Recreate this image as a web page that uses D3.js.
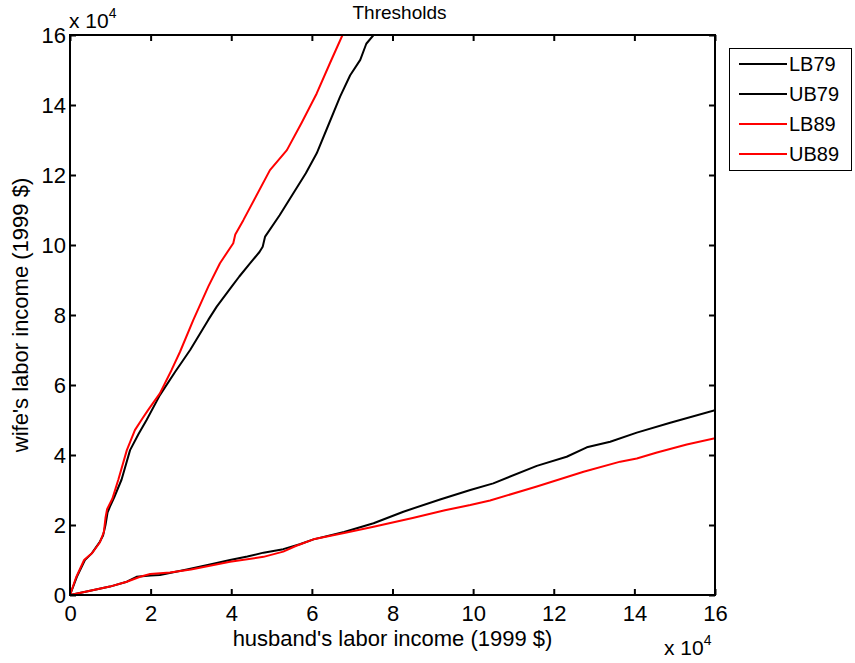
<!DOCTYPE html>
<html>
<head>
<meta charset="utf-8">
<script src="https://cdn.jsdelivr.net/npm/d3@7"></script>
<style>
  html, body { margin: 0; padding: 0; background: #fff; }
  svg text { font-family: Arial, "Liberation Sans", Helvetica, sans-serif; fill: #000; }
</style>
</head>
<body>
<svg id="chart" width="855" height="663"></svg>
<script>
// Values in units of 1e4 (1999 $)
const xTicks = [0, 2, 4, 6, 8, 10, 12, 14, 16];
const yTicks = [0, 2, 4, 6, 8, 10, 12, 14, 16];
const seriesNames = ["LB79", "UB79", "LB89", "UB89"];
const seriesColors = ["#000000", "#000000", "#ff0000", "#ff0000"];

const lb79X = [0, 0.5, 0.99, 1.41, 1.65, 2.0, 2.23, 2.9, 3.5, 3.97, 4.4, 4.8, 5.29, 5.7, 6.04, 6.8, 7.53, 8.27, 9.18, 9.93, 10.5, 11.58, 12.32, 12.82, 13.4, 14.06, 14.89, 16.0];
const lb79Y = [0, 0.12, 0.24, 0.38, 0.52, 0.56, 0.57, 0.73, 0.88, 1.0, 1.1, 1.21, 1.31, 1.45, 1.59, 1.8, 2.05, 2.38, 2.73, 3.0, 3.19, 3.69, 3.95, 4.22, 4.38, 4.64, 4.92, 5.28];

const ub79X = [0, 0.17, 0.37, 0.54, 0.74, 0.82, 0.88, 0.93, 1.0, 1.1, 1.28, 1.49, 1.7, 1.9, 2.23, 2.61, 2.98, 3.43, 3.64, 4.01, 4.2, 4.47, 4.7, 4.78, 4.84, 5.2, 5.54, 5.85, 6.12, 6.4, 6.7, 6.95, 7.2, 7.35, 7.53];
const ub79Y = [0, 0.52, 1.0, 1.19, 1.52, 1.7, 2.0, 2.35, 2.55, 2.8, 3.3, 4.14, 4.6, 5.0, 5.71, 6.38, 7.0, 7.86, 8.24, 8.81, 9.1, 9.48, 9.8, 9.95, 10.24, 10.85, 11.48, 12.05, 12.62, 13.4, 14.24, 14.85, 15.29, 15.75, 16.0];

const lb89X = [0, 0.5, 0.99, 1.41, 1.74, 1.99, 2.48, 3.0, 3.97, 4.8, 5.29, 5.6, 6.04, 6.8, 7.53, 8.5, 9.3, 9.93, 10.42, 11.58, 12.74, 13.65, 14.06, 14.56, 15.3, 16.0];
const lb89Y = [0, 0.12, 0.24, 0.38, 0.52, 0.6, 0.64, 0.73, 0.95, 1.09, 1.24, 1.4, 1.59, 1.77, 1.95, 2.2, 2.42, 2.57, 2.7, 3.1, 3.52, 3.81, 3.9, 4.07, 4.3, 4.48];

const ub89X = [0, 0.15, 0.35, 0.55, 0.74, 0.84, 0.88, 0.92, 1.05, 1.2, 1.41, 1.61, 1.8, 1.94, 2.23, 2.52, 2.73, 3.06, 3.43, 3.72, 4.05, 4.1, 4.3, 4.96, 5.38, 5.75, 6.12, 6.45, 6.76];
const ub89Y = [0, 0.5, 1.0, 1.2, 1.5, 1.8, 2.2, 2.45, 2.75, 3.3, 4.14, 4.71, 5.05, 5.29, 5.76, 6.43, 6.95, 7.86, 8.81, 9.48, 10.05, 10.3, 10.71, 12.14, 12.71, 13.5, 14.33, 15.2, 16.0];

const seriesX = [lb79X, ub79X, lb89X, ub89X];
const seriesY = [lb79Y, ub79Y, lb89Y, ub89Y];

const svg = d3.select("#chart");
const pL = 70, pR = 715, pT = 35, pB = 595;

const x = d3.scaleLinear().domain([0, 16]).range([pL, pR]);
const y = d3.scaleLinear().domain([0, 16]).range([pB, pT]);

const fsTick = 22, fsLabel = 22, fsTitle = 19, fsLeg = 20;

// axes with inward ticks
const tickLen = 6;
const axB = svg.append("g").attr("transform", `translate(0,${pB})`)
  .call(d3.axisBottom(x).tickValues(xTicks).tickSizeInner(-tickLen).tickSizeOuter(0).tickPadding(10).tickFormat(d3.format("d")));
const axT = svg.append("g").attr("transform", `translate(0,${pT})`)
  .call(d3.axisTop(x).tickValues(xTicks).tickSizeInner(-tickLen).tickSizeOuter(0).tickFormat(""));
const axL = svg.append("g").attr("transform", `translate(${pL},0)`)
  .call(d3.axisLeft(y).tickValues(yTicks).tickSizeInner(-tickLen).tickSizeOuter(0).tickPadding(4).tickFormat(d3.format("d")));
const axR = svg.append("g").attr("transform", `translate(${pR},0)`)
  .call(d3.axisRight(y).tickValues(yTicks).tickSizeInner(-tickLen).tickSizeOuter(0).tickFormat(""));

[axB, axT, axL, axR].forEach(g => {
  g.attr("font-size", fsTick);
  g.selectAll(".domain").remove();
  g.selectAll(".tick line").attr("stroke", "#000").attr("stroke-width", 2);
  g.selectAll("text").attr("font-size", fsTick).attr("fill", "#000")
    .style("font-family", "Arial, 'Liberation Sans', sans-serif");
});

// clip
svg.append("clipPath").attr("id", "clip").append("rect")
  .attr("x", pL).attr("y", pT).attr("width", pR - pL).attr("height", pB - pT);

const line = d3.line().x(d => x(d[0])).y(d => y(d[1]));
seriesNames.forEach((name, i) => {
  const pts = seriesX[i].map((v, j) => [v, seriesY[i][j]]);
  svg.append("path").datum(pts)
    .attr("d", line)
    .attr("fill", "none")
    .attr("stroke", seriesColors[i])
    .attr("stroke-width", 2)
    .attr("stroke-linejoin", "round")
    .attr("clip-path", "url(#clip)");
});

// box
svg.append("rect").attr("x", pL).attr("y", pT).attr("width", pR - pL).attr("height", pB - pT)
  .attr("fill", "none").attr("stroke", "#000").attr("stroke-width", 2);

// title
svg.append("text").attr("x", (pL + pR) / 2 + 7).attr("y", 19).attr("text-anchor", "middle")
  .attr("font-size", fsTitle).text("Thresholds");

// axis labels
svg.append("text").attr("x", (pL + pR) / 2).attr("y", 646).attr("text-anchor", "middle")
  .attr("font-size", fsLabel).text("husband's labor income (1999 $)");
svg.append("text").attr("transform", `translate(28,${(pT + pB) / 2}) rotate(-90)`)
  .attr("text-anchor", "middle").attr("font-size", fsLabel).text("wife's labor income (1999 $)");

// exponent labels
function expLabel(xx, yy) {
  const t = svg.append("text").attr("x", xx).attr("y", yy).attr("font-size", 21);
  t.append("tspan").text("x 10");
  t.append("tspan").attr("dy", -10).attr("font-size", 14).text("4");
}
expLabel(69, 28);
expLabel(664, 655);

// legend
const lg = svg.append("g");
lg.append("rect").attr("x", 729.5).attr("y", 48.5).attr("width", 122).attr("height", 122)
  .attr("fill", "#fff").attr("stroke", "#000").attr("stroke-width", 1);
seriesNames.forEach((name, i) => {
  const yy = 64 + i * 30;
  lg.append("line").attr("x1", 739).attr("x2", 787).attr("y1", yy).attr("y2", yy)
    .attr("stroke", seriesColors[i]).attr("stroke-width", 2);
  lg.append("text").attr("x", 789).attr("y", yy + 7).attr("font-size", fsLeg).text(name);
});
</script>
</body>
</html>
